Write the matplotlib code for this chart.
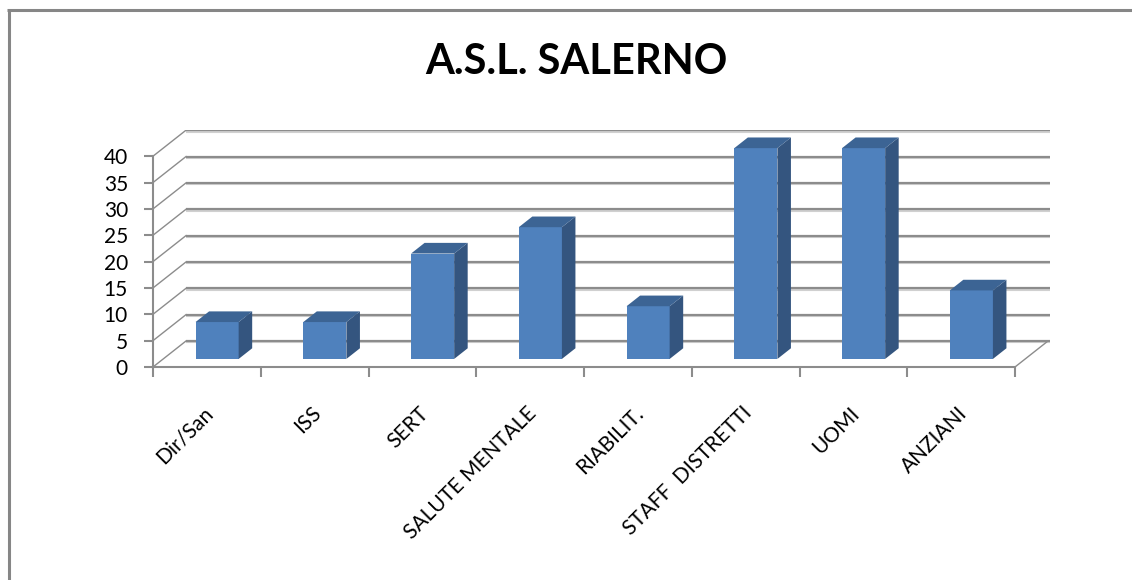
import matplotlib
matplotlib.use("Agg")
import matplotlib.pyplot as plt
from matplotlib.patches import Polygon
from matplotlib.lines import Line2D

categories = ["Dir/San", "ISS", "SERT", "SALUTE MENTALE", "RIABILIT.",
              "STAFF  DISTRETTI", "UOMI", "ANZIANI"]
values = [7, 7, 20, 25, 10, 40, 40, 13]
yticks = [0, 5, 10, 15, 20, 25, 30, 35, 40]
title = "A.S.L. SALERNO"

W, H = 1132, 580
fig = plt.figure(figsize=(W / 100, H / 100), dpi=100)
fig.patch.set_facecolor("white")

# outer border (left and top)
fig.add_artist(Line2D([8.5 / W, 8.5 / W], [0, 1 - 9 / H], transform=fig.transFigure,
                      color="#868686", lw=2.2, solid_capstyle="butt"))
fig.add_artist(Line2D([7 / W, 1], [1 - 10 / H, 1 - 10 / H], transform=fig.transFigure,
                      color="#868686", lw=2.2, solid_capstyle="butt"))

# axes geometry (pixels)
px_left, px_right, px_top, px_bottom = 153, 1050, 130, 367
xs_per_px = 1 / 107.75
vs_per_px = 1 / 5.27
xmax = (px_right - px_left) * xs_per_px
ymax = (px_bottom - px_top) * vs_per_px
ax = fig.add_axes([px_left / W, 1 - px_bottom / H, (px_right - px_left) / W,
                   (px_bottom - px_top) / H])
ax.set_xlim(0, xmax)
ax.set_ylim(0, ymax)
ax.patch.set_alpha(0)
for s in ["top", "right"]:
    ax.spines[s].set_visible(False)

# depth projection offsets in data units
DX = 33 * xs_per_px
DY = 26 * vs_per_px
n = len(categories)
grid_c = "#8c8c8c"
grid_l = "#d0d0d0"

# back wall gridlines and left wall diagonals
for v in yticks:
    ax.plot([DX, xmax], [v + DY - 0.25, v + DY - 0.25], color=grid_l, lw=1.5, zorder=1,
            solid_capstyle="butt")
    ax.plot([DX, xmax], [v + DY, v + DY], color=grid_c, lw=1.6, zorder=1.1,
            solid_capstyle="butt")
    ax.plot([0, DX], [v, v + DY], color=grid_c, lw=1.0, zorder=1.1)
# right floor edge
ax.plot([n, n + DX], [0, DY], color=grid_c, lw=1.0, zorder=1.1)

# spines (front axes)
for s in ["left", "bottom"]:
    ax.spines[s].set_color("#8c8c8c")
    ax.spines[s].set_linewidth(1.5)
ax.spines["left"].set_bounds(0, 40)
ax.spines["bottom"].set_bounds(0, n)

ax.set_yticks(yticks)
ax.set_yticklabels([str(t) for t in yticks], fontsize=15, family="Lato")
ax.tick_params(axis="y", length=6.5, width=1.5, color="#8c8c8c", pad=11.5)

ax.set_xticks([i for i in range(n + 1)])
ax.set_xticklabels([""] * (n + 1))
ax.tick_params(axis="x", which="major", length=7, width=1.5, color="#8c8c8c", direction="out")
ax.set_xticks([i + 0.5 + 3 * xs_per_px for i in range(n)], minor=True)
ax.set_xticklabels(categories, minor=True, rotation=45, ha="right", va="center",
                   rotation_mode="anchor", fontsize=15, family="Lato")
ax.tick_params(axis="x", which="minor", length=0, pad=31)

# 3D bars
bw = 0.40
d0, d1 = 0.31, 0.72
front_c = "#4F81BD"
side_c = "#34557F"
top_c = "#3C6494"
for i, v in enumerate(values):
    cx = i + 0.5 + d0 * DX
    x0, x1 = cx - bw / 2, cx + bw / 2
    y0 = d0 * DY
    ax.bar(cx, v, width=bw, bottom=y0, color=front_c, edgecolor="none", zorder=3)
    ddx = (d1 - d0) * DX
    ddy = (d1 - d0) * DY
    side = Polygon([(x1, y0), (x1 + ddx, y0 + ddy), (x1 + ddx, y0 + v + ddy), (x1, y0 + v)],
                   closed=True, facecolor=side_c, edgecolor="none", zorder=3)
    top = Polygon([(x0, y0 + v), (x1, y0 + v), (x1 + ddx, y0 + v + ddy), (x0 + ddx, y0 + v + ddy)],
                  closed=True, facecolor=top_c, edgecolor="none", zorder=3)
    ax.add_patch(side)
    ax.add_patch(top)

fig.text(576 / W, 1 - 62 / H, title, ha="center", va="center", fontsize=30,
         fontweight="bold", family="Lato")

fig.savefig("out.png", dpi=100)
